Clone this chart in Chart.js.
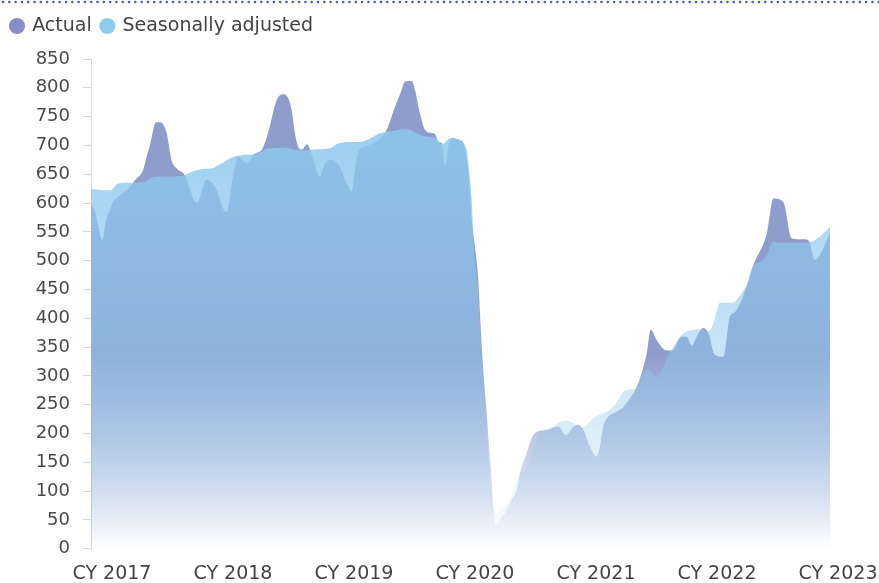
<!DOCTYPE html>
<html>
<head>
<meta charset="utf-8">
<script src="https://cdn.jsdelivr.net/npm/chart.js@4/dist/chart.umd.min.js"></script>
<style>
html,body{margin:0;padding:0;background:#fff;}
#wrap{width:879px;height:583px;position:relative;}
</style>
</head>
<body>
<div id="wrap"><canvas id="c" width="879" height="583"></canvas></div>
<script>
// ---- data (x in decimal calendar years) ----
const seriesNames = ['Actual', 'Seasonally adjusted'];
const yearTicks = [2017, 2018, 2019, 2020, 2021, 2022, 2023];
const tickPrefix = 'CY ';

const actualDates = [2016.826,2016.860,2016.923,2016.950,2016.983,2017.008,2017.050,2017.149,2017.190,2017.256,2017.289,2017.314,2017.364,2017.397,2017.421,2017.452,2017.493,2017.535,2017.603,2017.628,2017.700,2017.783,2017.851,2017.948,2018.000,2018.041,2018.113,2018.182,2018.237,2018.289,2018.361,2018.416,2018.457,2018.485,2018.512,2018.540,2018.568,2018.614,2018.636,2018.719,2018.760,2018.816,2018.884,2018.940,2018.981,2019.008,2019.036,2019.105,2019.215,2019.270,2019.339,2019.394,2019.421,2019.477,2019.504,2019.545,2019.587,2019.628,2019.669,2019.697,2019.725,2019.752,2019.780,2019.810,2019.876,2019.903,2019.931,2019.959,2019.973,2020.000,2020.027,2020.041,2020.055,2020.074,2020.097,2020.116,2020.138,2020.151,2020.171,2020.207,2020.262,2020.303,2020.345,2020.372,2020.427,2020.469,2020.510,2020.593,2020.689,2020.752,2020.813,2020.854,2020.896,2020.950,2021.006,2021.033,2021.060,2021.102,2021.171,2021.226,2021.281,2021.337,2021.392,2021.419,2021.452,2021.502,2021.585,2021.626,2021.708,2021.750,2021.791,2021.832,2021.887,2021.928,2021.983,2022.052,2022.107,2022.149,2022.245,2022.300,2022.411,2022.466,2022.548,2022.617,2022.727,2022.763,2022.810,2022.934];
const actualValues = [600,585,536,570,588,602,611,628,640,657,683,700,740,740,737,721,674,660,648,634,600,641,628,584,645,680,669,686,692,721,779,789,782,761,721,697,693,702,693,646,669,675,663,634,620,657,689,699,712,727,767,796,811,812,796,756,727,722,720,706,704,663,698,713,709,704,675,617,570,524,466,409,351,293,235,177,119,73,41,50,67,85,102,131,166,192,203,206,212,197,212,215,206,177,160,177,212,229,238,246,261,281,316,339,380,362,344,344,368,368,352,368,383,374,336,333,403,411,455,492,547,608,602,539,537,533,501,547];

const saDates = [2016.826,2016.983,2017.050,2017.132,2017.273,2017.328,2017.438,2017.576,2017.659,2017.742,2017.835,2017.907,2018.000,2018.072,2018.182,2018.237,2018.279,2018.430,2018.554,2018.664,2018.802,2018.857,2018.940,2019.050,2019.132,2019.215,2019.325,2019.408,2019.463,2019.518,2019.573,2019.683,2019.711,2019.738,2019.793,2019.849,2019.898,2019.931,2019.952,2019.973,2019.986,2020.000,2020.021,2020.050,2020.087,2020.120,2020.149,2020.174,2020.234,2020.289,2020.372,2020.427,2020.482,2020.537,2020.620,2020.702,2020.758,2020.813,2020.882,2020.937,2020.992,2021.060,2021.130,2021.184,2021.240,2021.317,2021.372,2021.419,2021.502,2021.612,2021.708,2021.750,2021.804,2021.873,2021.928,2021.970,2022.025,2022.135,2022.190,2022.245,2022.300,2022.355,2022.411,2022.466,2022.521,2022.741,2022.851,2022.934];
const saValues = [624,622,634,635,637,644,646,647,654,659,661,669,680,683,685,689,694,696,691,693,695,702,706,706,712,721,725,728,727,721,716,712,704,703,712,711,706,692,657,605,548,501,460,351,240,140,80,61,70,85,130,137,177,203,209,220,222,218,209,218,229,235,244,258,275,277,296,313,299,342,371,377,380,381,377,391,427,427,440,458,492,498,510,533,531,531,542,559];

// ---- styling ----
const FONT = "'DejaVu Sans', sans-serif";
const legendColors = {actual: '#8a8ec8', sa: '#8ecdef'};

function toPoints(xs, ys) { return xs.map((x, i) => ({x: x, y: ys[i]})); }

function makeGradient(rgb, stops) {
  return function (context) {
    const chart = context.chart;
    const area = chart.chartArea;
    if (!area) return 'rgba(' + rgb + ',1)';
    const g = chart.ctx.createLinearGradient(0, area.top, 0, area.bottom);
    stops.forEach(s => g.addColorStop(s[0], 'rgba(' + rgb + ',' + s[1] + ')'));
    return g;
  };
}

const legendSpacer = {
  id: 'legendSpacer',
  beforeInit(chart) {
    const orig = chart.legend.fit;
    chart.legend.fit = function () { orig.call(this); this.height += 13.5; };
  }
};

const topDots = {
  id: 'topDots',
  afterDraw(chart) {
    const c = chart.ctx;
    c.save();
    c.fillStyle = '#3f5fc2';
    for (let x = 3; x < chart.width; x += 6.3) {
      c.beginPath(); c.arc(x, 2, 1.3, 0, Math.PI * 2); c.fill();
    }
    c.restore();
  }
};

new Chart(document.getElementById('c'), {
  type: 'line',
  data: {
    datasets: [
      {
        label: seriesNames[1],
        data: toPoints(saDates, saValues),
        fill: 'origin',
        borderWidth: 0,
        pointRadius: 0,
        cubicInterpolationMode: 'monotone',
        backgroundColor: makeGradient('141,200,237', [[0, 1], [0.7, 0.4], [1, 0]])
      },
      {
        label: seriesNames[0],
        data: toPoints(actualDates, actualValues),
        fill: 'origin',
        borderWidth: 0,
        pointRadius: 0,
        cubicInterpolationMode: 'monotone',
        backgroundColor: makeGradient('143,157,204', [[0, 1], [0.6, 1], [1, 0]])
      }
    ]
  },
  options: {
    responsive: false,
    animation: false,
    layout: {padding: {top: 6.5, left: 1.35, right: 0, bottom: 0}},
    plugins: {
      tooltip: {enabled: false},
      legend: {
        position: 'top',
        align: 'start',
        labels: {
          usePointStyle: true,
          pointStyle: 'circle',
          boxWidth: 11.3,
          boxHeight: 11.3,
          padding: 10,
          color: '#444',
          font: {family: FONT, size: 19},
          generateLabels(chart) {
            const items = Chart.defaults.plugins.legend.labels.generateLabels(chart);
            items.forEach(it => {
              const c = it.datasetIndex === 1 ? legendColors.actual : legendColors.sa;
              it.fillStyle = c; it.strokeStyle = c; it.lineWidth = 0;
            });
            return items.reverse();
          }
        }
      }
    },
    scales: {
      x: {
        type: 'linear',
        min: 2016.8265,
        max: 2023,
        afterFit(scale) { scale.height = 34.3; scale.paddingRight = 41; scale.paddingLeft = 0; },
        afterBuildTicks(scale) { scale.ticks = yearTicks.map(v => ({value: v})); },
        grid: {display: false, drawTicks: false},
        border: {display: false},
        ticks: {
          autoSkip: false,
          maxRotation: 0,
          padding: 14,
          color: '#444',
          font: {family: FONT, size: 19},
          callback: v => tickPrefix + v
        }
      },
      y: {
        min: 0,
        max: 850,
        afterFit(scale) { scale.width = 89.65; },
        grid: {drawOnChartArea: false, drawTicks: true, tickLength: 8, color: '#d9d9d9'},
        border: {display: true, color: '#d9d9d9'},
        ticks: {
          stepSize: 50,
          padding: 13,
          color: '#4a4a4a',
          font: {family: FONT, size: 18}
        }
      }
    }
  },
  plugins: [legendSpacer, topDots]
});
</script>
</body>
</html>
